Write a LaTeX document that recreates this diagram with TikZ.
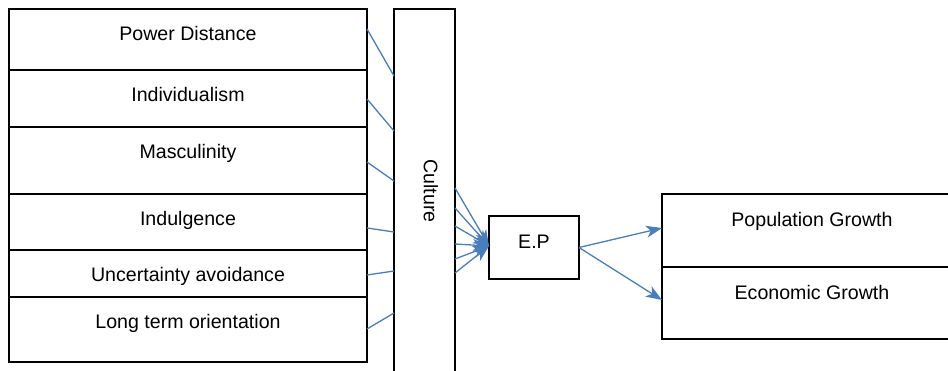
\documentclass[tikz,border=0pt]{standalone}
\usepackage{fontspec}
\setmainfont{Liberation Sans}
\usetikzlibrary{arrows.meta,positioning,calc}
\definecolor{linkblue}{RGB}{74,126,187}
\tikzset{
  box/.style={draw=black, line width=1.4pt, outer sep=0pt, inner ysep=0pt,
    font=\fontsize{19.6}{23}\selectfont},
  row/.style={box, minimum width=358pt, text height=32pt},
  outbox/.style={box, minimum width=300pt, text height=33pt},
  link/.style={draw=linkblue, line width=1.3pt},
  arrow/.style={link, -{Stealth[length=16pt, width=12pt, inset=4.5pt]}},
}
\begin{document}
\begin{tikzpicture}[x=1pt, y=1pt]
  \useasboundingbox (0,0) rectangle (948,-371);

  % cultural dimensions
  \node[row, anchor=north west, text depth=29pt] (pd) at (9,-9) {Power Distance};
  \node[row, below=0pt of pd, text depth=25pt] (ind) {Individualism};
  \node[row, below=0pt of ind, text depth=35pt] (mas) {Masculinity};
  \node[row, below=0pt of mas, text depth=24pt] (indu) {Indulgence};
  \node[row, below=0pt of indu, text depth=15pt] (ua) {Uncertainty avoidance};
  \node[row, below=0pt of ua, text depth=33pt] (lto) {Long term orientation};

  \node[box, anchor=north west, minimum width=61pt, minimum height=364pt] (cul) at (394,-9) {\kern13pt\rotatebox{-90}{Culture}};
  \node[box, anchor=north west, minimum width=90pt, text height=33pt, text depth=30pt] (ep) at (489,-216) {E.P};

  % outcomes
  \node[outbox, anchor=north west, text depth=40pt] (pg) at (662,-194) {Population Growth};
  \node[outbox, below=0pt of pg, text depth=39pt] (eg) {Economic Growth};

  \draw[link] ([yshift=-20pt]pd.north east) -- ([yshift=-67pt]cul.north west);
  \draw[link] ([yshift=-29pt]ind.north east) -- ([yshift=-122pt]cul.north west);
  \draw[link] ([yshift=-35pt]mas.north east) -- ([yshift=-172pt]cul.north west);
  \draw[link] ([yshift=-34pt]indu.north east) -- ([yshift=-223pt]cul.north west);
  \draw[link] ([yshift=-25pt]ua.north east) -- ([yshift=-262pt]cul.north west);
  \draw[link] ([yshift=-32pt]lto.north east) -- ([yshift=-304pt]cul.north west);

  \foreach \y in {179,199,217,235,250,264}
    \draw[arrow] ([yshift=-\y pt]cul.north east) -- ([yshift=-30pt]ep.north west);

  \draw[arrow] (ep.east) -- ([yshift=-34pt]pg.north west);
  \draw[arrow] (ep.east) -- ([yshift=-33pt]eg.north west);
\end{tikzpicture}
\end{document}
